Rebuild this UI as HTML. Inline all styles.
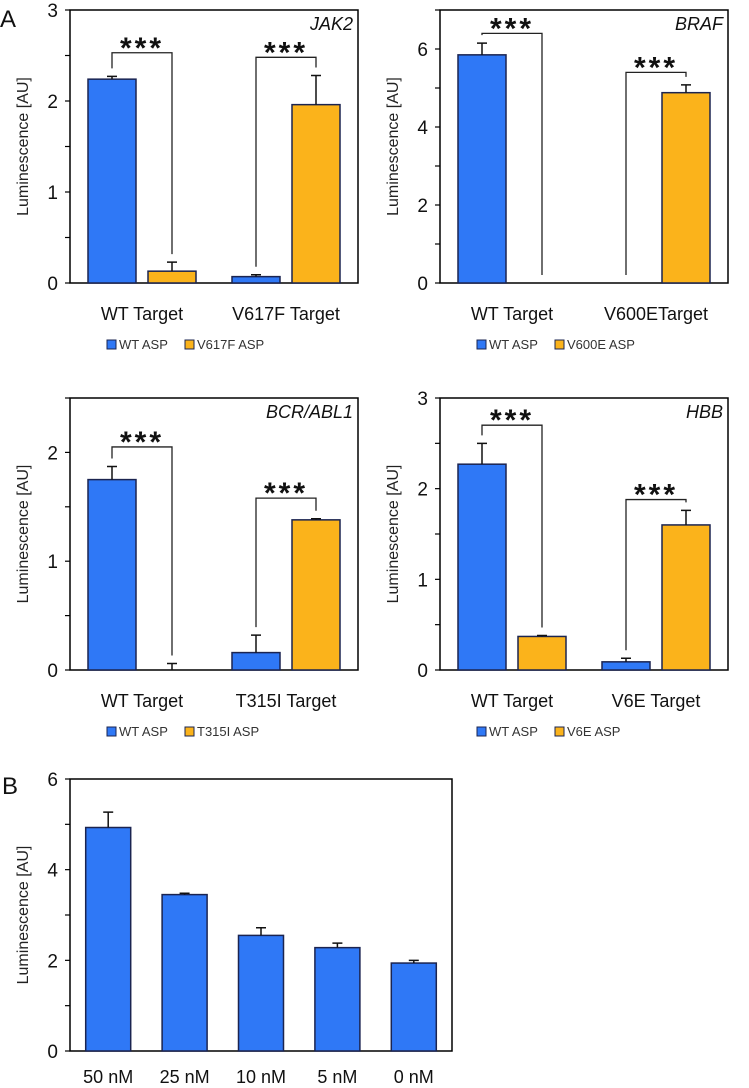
<!DOCTYPE html>
<html><head><meta charset="utf-8"><style>
body{margin:0;background:#fff;}
svg{display:block;font-family:"Liberation Sans","DejaVu Sans",sans-serif;}
</style></head><body>
<svg id="c" width="749" height="1088" viewBox="0 0 749 1088" xmlns="http://www.w3.org/2000/svg"></svg>
<script>
const NS="http://www.w3.org/2000/svg";
const svg=document.getElementById('c');
// ---- data ----
const jakCats=["WT Target","V617F Target"];
const jakWT=[2.24,0.07];const jakWTErr=[2.27,0.09];
const jakMut=[0.13,1.96];const jakMutErr=[0.23,2.28];
const brafCats=["WT Target","V600ETarget"];
const brafWT=[5.85,0];const brafWTErr=[6.15,0];
const brafMut=[0,4.88];const brafMutErr=[0,5.08];
const bcrCats=["WT Target","T315I Target"];
const bcrWT=[1.75,0.16];const bcrWTErr=[1.87,0.32];
const bcrMut=[0,1.38];const bcrMutErr=[0.06,1.39];
const hbbCats=["WT Target","V6E Target"];
const hbbWT=[2.27,0.09];const hbbWTErr=[2.5,0.13];
const hbbMut=[0.37,1.6];const hbbMutErr=[0.38,1.76];
const bCats=["50 nM","25 nM","10 nM","5 nM","0 nM"];
const bVals=[4.93,3.45,2.55,2.28,1.94];
const bErr=[5.27,3.48,2.72,2.38,2.0];
const BLUE="#2f78f6",ORANGE="#fbb31b",EDGE="#1b2450";
function el(t,a,p){const e=document.createElementNS(NS,t);for(const k in a)e.setAttribute(k,a[k]);(p||svg).appendChild(e);return e;}
function txt(s,a,p){const e=el('text',a,p);e.textContent=s;return e;}
function axes(g,x0,x1,y0,y1,max,major,minor,yl){
  const ys=v=>y0-(v/max)*(y0-y1);
  const r=el('rect',{x:x0,y:y1,width:x1-x0,height:y0-y1,fill:'none',stroke:'#000','stroke-width':1.5},g);
  
  
  for(let v=0;v<=max+1e-9;v+=minor){
    const t=el('line',{x1:x0-5,x2:x0,y1:ys(v),y2:ys(v),stroke:'#000','stroke-width':1.2},g);
    
    
  }
  for(let v=0;v<=max+1e-9;v+=major){
    const l=txt(String(Math.round(v)),{x:x0-12,y:ys(v)+7,'text-anchor':'end','font-size':19,fill:'#111'},g);
    
    
  }
  const t=txt(yl,{transform:`translate(${x0-42},${(y0+y1)/2}) rotate(-90)`,'text-anchor':'middle','font-size':16,fill:'#222'},g);
  
  
  return ys;
}
function bar(g,x,w,v,e,ys,col,name){
  const y0=ys(0);
  const b=el('rect',{x:x,y:ys(v),width:w,height:Math.max(0,y0-ys(v)),fill:col,stroke:EDGE,'stroke-width':1.5},g);
  
  
  if(e>v){const cx=x+w/2;
    const l=el('path',{d:`M${cx},${ys(v)}V${ys(e)}M${cx-5},${ys(e)}H${cx+5}`,stroke:'#111','stroke-width':1.5,fill:'none'},g);
    
    }
}
function panel(o){
  const g=el('g',{});
  
  
  const ys=axes(g,o.x0,o.x1,o.y0,o.y1,o.max,o.major,o.minor,"Luminescence [AU]");
  const W=o.x1-o.x0, gw=W/2, bw=48;
  o.cats.forEach((c,i)=>{
    const gc=o.x0+gw*i+gw/2;
    const xa=gc-bw-6, xb=gc+6;
    bar(g,xa,bw,o.wt[i],o.wte[i],ys,BLUE,'bar-wt-asp');
    bar(g,xb,bw,o.mu[i],o.mue[i],ys,ORANGE,'bar-mut-asp');
    const l=txt(c,{x:gc,y:o.y0+37,'text-anchor':'middle','font-size':18,fill:'#111'},g);
    
    
    const lv=o.br[i], ca=xa+bw/2, cb=xb+bw/2;
    const ta=ys(Math.max(o.wt[i],o.wte[i]))-8, tb=ys(Math.max(o.mu[i],o.mue[i]))-8;
    const p=el('path',{d:`M${ca},${ta}V${ys(lv)}H${cb}V${tb}`,stroke:'#222','stroke-width':1.3,fill:'none'},g);
    
    
    const s=txt('***',{x:(ca+cb)/2,y:ys(lv)+5,'text-anchor':'middle','font-size':30,'font-weight':'bold',fill:'#111','letter-spacing':'3'},g);
    
    
  });
  const t=txt(o.title,{x:o.x1-5,y:o.y1+20,'text-anchor':'end','font-size':18,'font-style':'italic',fill:'#111'},g);
  
  
  const ly=o.y0+66, lx=o.x0+37;
  const r1=el('rect',{x:lx,y:ly-9,width:9,height:9,fill:BLUE,stroke:EDGE},g);
  
  
  const t1=txt('WT ASP',{x:lx+12,y:ly,'font-size':13,fill:'#333'},g);
  
  
  const r2=el('rect',{x:lx+78,y:ly-9,width:9,height:9,fill:ORANGE,stroke:EDGE},g);
  
  
  const t2=txt(o.leg,{x:lx+90,y:ly,'font-size':13,fill:'#333'},g);
  
  
}
panel({name:'panel-jak2',x0:70,x1:358,y0:283,y1:10,max:3,major:1,minor:0.5,cats:jakCats,wt:jakWT,wte:jakWTErr,mu:jakMut,mue:jakMutErr,br:[2.53,2.48],title:'JAK2',leg:'V617F ASP'});
panel({name:'panel-braf',x0:440,x1:728,y0:283,y1:10,max:7,major:2,minor:1,cats:brafCats,wt:brafWT,wte:brafWTErr,mu:brafMut,mue:brafMutErr,br:[6.4,5.4],title:'BRAF',leg:'V600E ASP'});
panel({name:'panel-bcr-abl1',x0:70,x1:358,y0:670,y1:398,max:2.5,major:1,minor:0.5,cats:bcrCats,wt:bcrWT,wte:bcrWTErr,mu:bcrMut,mue:bcrMutErr,br:[2.05,1.58],title:'BCR/ABL1',leg:'T315I ASP'});
panel({name:'panel-hbb',x0:440,x1:728,y0:670,y1:398,max:3,major:1,minor:0.5,cats:hbbCats,wt:hbbWT,wte:hbbWTErr,mu:hbbMut,mue:hbbMutErr,br:[2.7,1.88],title:'HBB',leg:'V6E ASP'});
(function(){
  const g=el('g',{});
  
  
  const x0=70,x1=452,y0=1051,y1=779;
  const ys=axes(g,x0,x1,y0,y1,6,2,1,"Luminescence [AU]");
  const step=(x1-x0)/bCats.length, bw=45;
  bCats.forEach((c,i)=>{
    const cx=x0+step*i+step/2;
    bar(g,cx-bw/2,bw,bVals[i],bErr[i],ys,BLUE,'bar-concentration');
    const l=txt(c,{x:cx,y:y0+32,'text-anchor':'middle','font-size':18,fill:'#111'},g);
    
    
  });
})();
const lA=txt('A',{x:0,y:27,'font-size':24,fill:'#111'});


const lB=txt('B',{x:2,y:794,'font-size':24,fill:'#111'});


</script>
</body></html>
